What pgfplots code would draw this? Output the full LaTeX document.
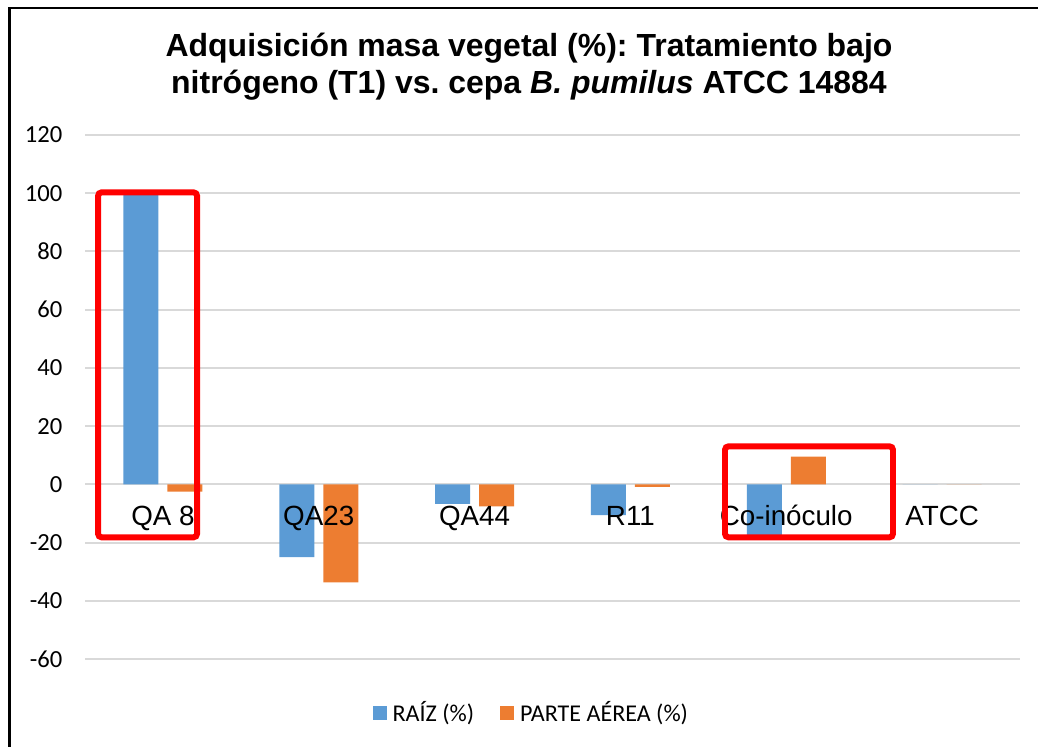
\documentclass[border=0pt]{standalone}
\usepackage{fontspec}
\setmainfont{Liberation Sans}
\newfontfamily\carlito{Carlito}
\usepackage{pgfplots}
\pgfplotsset{compat=1.18}
\definecolor{cblue}{HTML}{5B9BD5}
\definecolor{corange}{HTML}{ED7D31}
\definecolor{cgrid}{HTML}{D9D9D9}
\definecolor{cred}{HTML}{FF0000}
\frenchspacing
\pgfplotsset{common/.style={
  at={(1.70cm,1.74cm)}, anchor=south west,
  scale only axis, width=18.70cm, height=10.48cm,
  xmin=-0.5, xmax=5.5, ymin=-60, ymax=120,
  axis line style={draw=none},
  tick style={draw=none},
  major tick length=0pt,
  clip=false}}
\begin{document}
\begin{tikzpicture}
\path[use as bounding box] (0,0) rectangle (20.76cm,14.92cm);
\draw[black, line width=1.4pt] (0.19cm,-0.1cm) -- (0.19cm,14.76cm) -- (20.9cm,14.76cm);
\node[anchor=base, font=\bfseries\fontsize{18.2}{22}\selectfont] at (10.58cm,13.78cm) {Adquisición masa vegetal (\%): Tratamiento bajo};
\node[anchor=base, font=\bfseries\fontsize{18.2}{22}\selectfont] at (10.58cm,13.04cm) {nitrógeno (T1) vs. cepa \textit{B. pumilus} ATCC 14884};
\begin{axis}[
  common,
  ytick={-60,-40,...,120},
  xtick=\empty,
  yticklabel style={xshift=-0.33cm, font=\carlito\fontsize{14}{16}\selectfont},
  /pgf/number format/assume math mode=true,
  ymajorgrids,
  grid style={cgrid, line width=1.1pt},
  ybar=0.18cm, bar width=0.7cm,
  legend columns=2,
  legend style={draw=none, fill=none, at={(0.4795,-0.103)}, anchor=center,
    font=\carlito\fontsize{13.7}{16}\selectfont,
    nodes={inner xsep=0.12cm},
    /tikz/every even column/.append style={column sep=0.4cm}},
  legend image code/.code={\fill[#1] (0cm,-0.14cm) rectangle (0.28cm,0.14cm);},
]
\addplot[fill=cblue, draw=none] coordinates {(0,100) (1,-25) (2,-6.7) (3,-10.6) (4,-18) (5,0)};
\addlegendentry{RAÍZ (\%)}
\addplot[fill=corange, draw=none] coordinates {(0,-2.5) (1,-33.7) (2,-7.6) (3,-0.9) (4,9.5) (5,0)};
\addlegendentry{PARTE AÉREA (\%)}
\end{axis}
\begin{axis}[
  common,
  ytick=\empty,
  xtick={0,1,2,3,4,5},
  xticklabels={QA 8,QA23,QA44,R11,Co-inóculo,ATCC},
  xticklabel style={anchor=base, yshift=2.68cm, font=\fontsize{15.8}{18}\selectfont},
]
\draw[cred, line width=3.4pt, rounded corners=2pt] (axis cs:-0.416,100.3) rectangle (axis cs:0.219,-18.2);
\draw[cred, line width=3.4pt, rounded corners=2pt] (axis cs:3.607,13.06) rectangle (axis cs:4.685,-18.2);
\end{axis}
\end{tikzpicture}
\end{document}
